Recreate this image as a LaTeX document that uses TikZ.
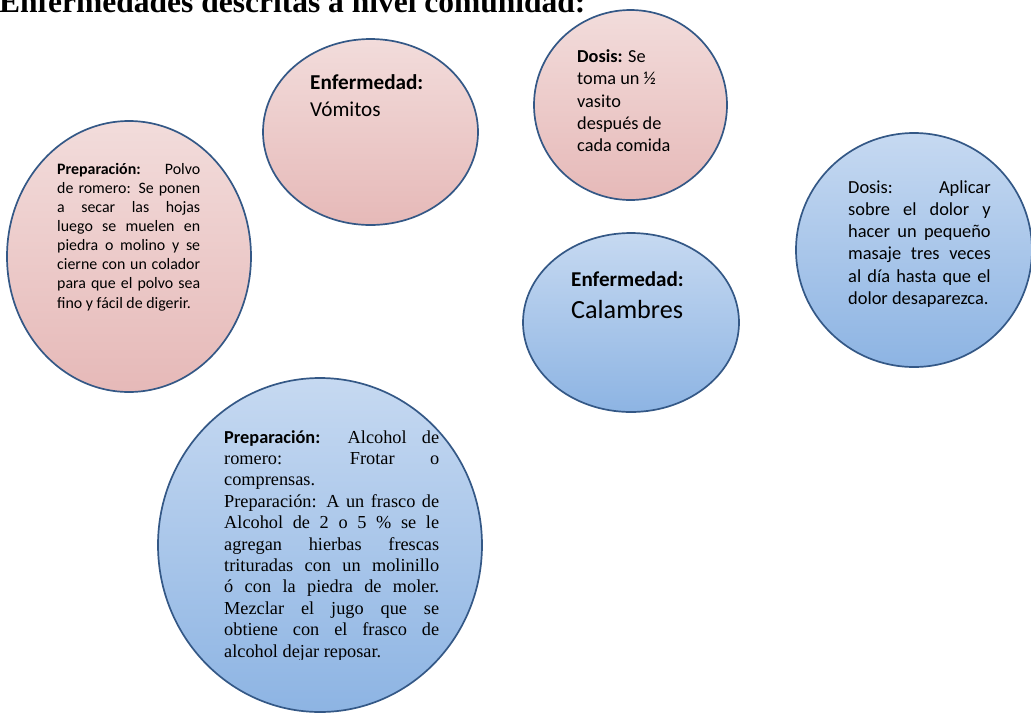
\documentclass[tikz,border=0pt]{standalone}
\usepackage{fontspec}
\setmainfont{Carlito}
\newfontfamily\timesfont{Liberation Serif}
\usetikzlibrary{shapes.geometric}

\hyphenpenalty=10000
\tolerance=10000
\hbadness=10000

\definecolor{rimblue}{RGB}{52,88,134}
\definecolor{pinktop}{RGB}{242,220,219}
\definecolor{pinkbot}{RGB}{230,185,184}
\definecolor{bluetop}{RGB}{198,217,241}
\definecolor{bluebot}{RGB}{141,180,227}

\begin{document}
\begin{tikzpicture}[x=1pt, y=-1pt,
        pinkblob/.style={ellipse, draw=rimblue, line width=1.7pt,
            top color=pinktop, bottom color=pinkbot, inner sep=0pt},
        blueblob/.style={ellipse, draw=rimblue, line width=1.7pt,
            top color=bluetop, bottom color=bluebot, inner sep=0pt},
        txt/.style={anchor=base west, inner sep=0pt, align=justify},
        lbl/.style={anchor=base west, inner sep=0pt, align=left}]

        \useasboundingbox (0,0) rectangle (1031,713);

        % titulo, cortado arriba
        \node[lbl, font=\timesfont\bfseries\fontsize{31.5}{36}\selectfont] (titulo) at (-1,12)
            {Enfermedades descritas a nivel comunidad:};

        \node[pinkblob, minimum width=244pt, minimum height=271pt] (polvo) at (129,256.5) {};
        \node[pinkblob, minimum width=215pt, minimum height=186pt] (vomitos) at (370.5,132) {};
        \node[pinkblob, minimum width=193pt, minimum height=190pt] (dosisvaso) at (630.5,105) {};
        \node[blueblob, minimum width=236pt, minimum height=234pt] (dosisdolor) at (914,250) {};
        \node[blueblob, minimum width=216pt, minimum height=179pt] (calambres) at (631,322.5) {};
        \node[blueblob, minimum width=324pt, minimum height=334pt] (alcohol) at (320,545) {};

        \node[txt, text width=143pt, font=\fontsize{15.9}{19.1}\selectfont] (polvotxt) at (57,174.3)
            {\textbf{Preparación:} Polvo\linebreak de romero: Se ponen\linebreak a secar las hojas\linebreak
            luego se muelen en\linebreak piedra o molino y se\linebreak cierne con un colador\linebreak
            para que el polvo sea\linebreak fino y fácil de digerir.};

        % los nodos de varias lineas se anclan en la ultima linea
        \node[lbl, font=\fontsize{21.2}{26.7}\selectfont] (vomitostxt) at (310,116)
            {\textbf{Enfermedad:}\\Vómitos};

        \node[lbl, font=\fontsize{18.3}{22.25}\selectfont] (dosisvasotxt) at (577,151.7)
            {\textbf{Dosis:} Se\\toma un ½\\vasito\\después de\\cada comida};

        \node[txt, text width=142.5pt, font=\fontsize{18.4}{22.3}\selectfont] (dosisdolortxt) at (848,193)
            {Dosis: Aplicar\linebreak sobre el dolor y\linebreak hacer un pequeño\linebreak
            masaje tres veces\linebreak al día hasta que el\linebreak dolor desaparezca.};

        \node[lbl, font=\bfseries\fontsize{21.1}{26}\selectfont] (calambreslbl) at (571,286.7) {Enfermedad:};
        \node[lbl, font=\fontsize{26.2}{31.6}\selectfont] (calambrestxt) at (571,318.3) {Calambres};

        % el texto de abajo sale recortado
        \begin{scope}
            \clip (150,380) rectangle (490,659.5);
            \node[txt, text width=215pt, font=\timesfont\fontsize{18.3}{21.4}\selectfont] (alcoholtxt) at (224,443)
                {{\normalfont\bfseries Preparación:} Alcohol de\linebreak romero: Frotar o\linebreak comprensas.\par
                Preparación: A un frasco de\linebreak Alcohol de 2 o 5 \% se le\linebreak agregan hierbas frescas\linebreak
                trituradas con un molinillo\linebreak ó con la piedra de moler.\linebreak Mezclar el jugo que se\linebreak
                obtiene con el frasco de\linebreak alcohol dejar reposar.};
        \end{scope}

    \end{tikzpicture}
\end{document}
